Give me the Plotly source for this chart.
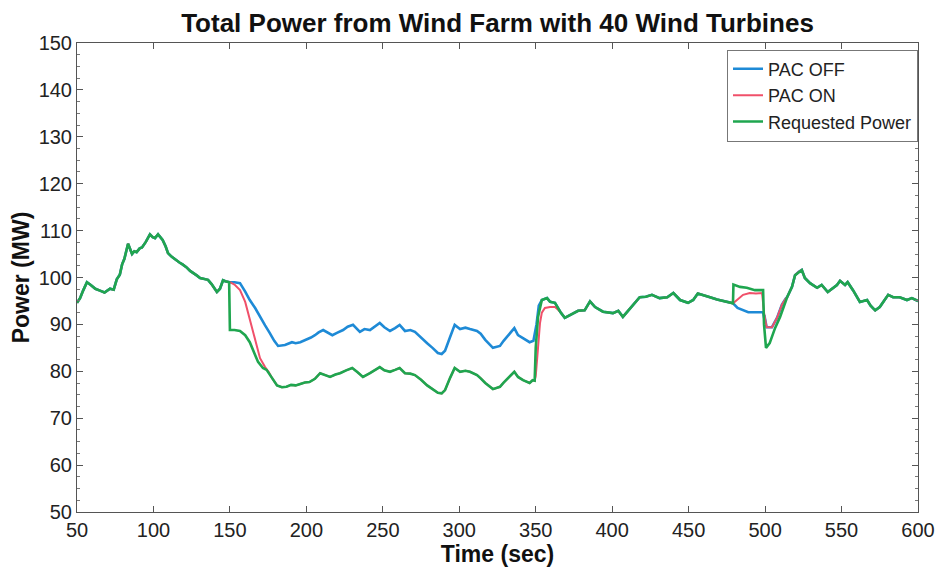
import plotly.graph_objects as go

# ---- measured power traces (time in s, power in MW) ----
# common part: all three traces coincide before the event at t = 150 s
t_common = [50, 52, 54, 56.5, 59, 62, 65, 68, 71.6, 74, 76, 78, 79.5, 81, 83.4, 86, 87.5,
            89, 91, 92.5, 95, 97.7, 99.5, 101, 103, 106, 108, 109.5, 112, 115, 117,
            119, 121.5, 124, 126, 128.5, 130.5, 132.5, 135.7, 138, 141.5, 143.5,
            145.5, 147, 149.5]
p_common = [94.6, 95.6, 97.2, 99.0, 98.4, 97.6, 97.2, 96.8, 97.6, 97.4, 99.6, 100.6, 102.8,
            104.0, 107.2, 105.0, 105.6, 105.4, 106.2, 106.4, 107.6, 109.2, 108.6, 108.4,
            109.2, 108.0, 106.6, 105.2, 104.4, 103.6, 103.2, 102.8, 102.2, 101.4, 101.0,
            100.4, 99.9, 99.7, 99.5, 98.6, 96.9, 97.6, 99.4, 99.2, 99.0]

# Requested power after the step at t = 150 s
t_req = [150, 153, 156.6, 160, 163, 165, 168.4, 171.6, 174, 177.5, 180.8, 184, 187, 190,
         193, 196, 199, 202, 205.6, 209, 212, 215.5, 219, 222, 226, 230, 233.5, 237,
         241.6, 245, 248, 251, 254.7, 258, 261, 264.5, 268, 271, 275, 279, 282.5, 286,
         288.5, 290.7, 294, 297, 300.5, 304, 307, 311.6, 314, 317, 322, 326.6, 329,
         332, 336, 338.4, 341.7, 346, 348, 349.3, 350, 351.5, 354, 357.4, 359.4,
         362.6, 366, 369, 372.4, 377.7, 382, 385.5, 388.8, 394, 400.5, 404, 407,
         411.7, 415, 418, 422, 426, 431, 436, 440, 444.4, 449.6, 453, 456, 459.4,
         464, 468.6, 473.8, 477, 479, 479.3, 483.6, 488, 493.4, 498.7, 499.3, 500.6,
         503, 506.5, 509.8, 514.4, 517.6, 519.6, 522, 524, 526, 529.4, 534, 537, 541,
         544, 547, 549, 552.3, 554, 557.5, 562, 566.7, 569, 572, 575, 580.5, 583.7,
         588, 592.8, 596, 600]
p_req = [88.8, 88.8, 88.6, 87.7, 86.2, 84.5, 82.0, 80.7, 80.3, 78.6, 77.0, 76.6, 76.7, 77.1,
         77.0, 77.3, 77.6, 77.7, 78.4, 79.6, 79.2, 78.8, 79.3, 79.6, 80.2, 80.7, 79.8,
         78.8, 79.6, 80.3, 80.9, 80.2, 79.9, 80.3, 80.7, 79.6, 79.5, 79.2, 78.2, 77.0,
         76.1, 75.4, 75.3, 76.0, 78.6, 80.7, 79.9, 80.1, 79.9, 79.2, 78.5, 77.5, 76.2,
         76.7, 77.6, 78.6, 79.9, 78.8, 78.1, 77.5, 78.1, 78.0, 85.0, 91.6, 95.2, 95.6,
         94.8, 94.6, 92.7, 91.4, 92.0, 92.9, 93.0, 94.9, 93.7, 92.7, 92.4, 92.9, 91.6,
         93.5, 94.8, 95.8, 95.9, 96.3, 95.6, 95.8, 96.7, 95.2, 94.6, 95.2, 96.6, 96.3,
         95.8, 95.3, 94.9, 94.8, 94.5, 98.5, 98.0, 97.8, 97.3, 97.3, 90.0, 85.0, 86.0,
         89.2, 91.6, 95.8, 98.0, 100.5, 101.2, 101.6, 99.9, 98.8, 97.8, 98.4, 96.9,
         97.6, 98.4, 99.3, 98.4, 99.0, 97.3, 94.8, 95.2, 94.0, 93.0, 93.7, 96.3, 95.8,
         95.8, 95.2, 95.6, 95.0]

# PAC ON: own response where it departs from the requested power
t_on_a = [150, 153, 156.6, 160, 163, 166.4, 169.7, 173, 175.5]
p_on_a = [99.0, 98.5, 97.3, 94.8, 91.0, 86.7, 82.8, 80.9, 79.8]
t_on_b = [350, 351.5, 352.8, 354, 356, 359.4, 362.6, 365]
p_on_b = [79.0, 85.0, 90.3, 92.5, 93.5, 93.7, 93.7, 93.0]
t_on_c = [479, 482, 485.6, 490, 494, 498, 499.5, 501, 504.5, 507.8, 511, 513.5]
p_on_c = [94.5, 95.3, 96.3, 96.7, 96.6, 96.7, 92.0, 89.4, 89.4, 91.4, 94.2, 95.5]

# PAC OFF: own response where it departs from the requested power
t_off_a = [150, 153, 156.6, 160, 163, 166.5, 169.7, 173, 176, 179, 181.5, 186, 190.6, 193,
           196, 200, 203, 205.6, 208, 211, 214, 217, 220, 224, 227, 230.5, 235, 238,
           241.6, 245, 248, 251, 254.7, 258, 261, 264.5, 268, 271, 275, 279, 282.5, 286,
           288.5, 290.7, 294, 297, 300.5, 304, 307, 311.6, 314, 317, 322, 326.6, 329,
           332, 336, 338.4, 341.7, 346, 348.5, 350.5, 352, 353.5]
p_off_a = [99.0, 99.0, 98.8, 97.0, 95.2, 93.5, 91.6, 89.8, 88.2, 86.5, 85.4, 85.6, 86.2, 86.0,
           86.2, 86.7, 87.2, 87.7, 88.3, 88.8, 88.2, 87.7, 88.2, 88.8, 89.5, 89.9, 88.4,
           89.0, 88.8, 89.6, 90.3, 89.4, 88.6, 89.2, 89.9, 88.6, 88.8, 88.4, 87.3, 86.0,
           85.0, 83.9, 83.7, 84.4, 87.3, 89.9, 89.0, 89.3, 89.0, 88.6, 88.0, 86.7, 85.0,
           85.4, 86.5, 87.7, 89.2, 87.7, 87.0, 86.2, 86.5, 90.0, 94.0, 95.0]
t_off_c = [479, 482, 485.6, 489, 494, 498.7, 499.6]
p_off_c = [94.5, 93.5, 93.0, 92.6, 92.6, 92.6, 91.0]


def splice(*parts):
    """Join (t, p) pieces; requested-power pieces are given as (t0, t1) windows."""
    ts, ps = [], []
    for part in parts:
        if isinstance(part[0], list):
            ts += part[0]
            ps += part[1]
        else:
            lo, hi = part
            for t, p in zip(t_req, p_req):
                if lo < t < hi:
                    ts.append(t)
                    ps.append(p)
    return ts, ps


t_on, p_on = splice((t_on_a, p_on_a), (t_on_a[-1], t_on_b[0]), (t_on_b, p_on_b),
                    (t_on_b[-1], t_on_c[0]), (t_on_c, p_on_c), (t_on_c[-1], 601))
t_on, p_on = t_common + t_on, p_common + p_on

t_off, p_off = splice((t_off_a, p_off_a), (t_off_a[-1], t_off_c[0]), (t_off_c, p_off_c))
t_off2, p_off2 = splice((t_on_c[6:], p_on_c[6:]), (t_on_c[-1], 601))
t_off = t_common + t_off + t_off2
p_off = p_common + p_off + p_off2

t_rq = t_common + t_req
p_rq = p_common + p_req

BLUE = "#1e8ad6"
RED = "#f0506a"
GREEN = "#1fa64f"
FONT = "Liberation Sans, Arial, sans-serif"

fig = go.Figure()
fig.add_trace(go.Scatter(x=t_off, y=p_off, mode="lines", name="PAC OFF",
                         line=dict(color=BLUE, width=2.6)))
fig.add_trace(go.Scatter(x=t_on, y=p_on, mode="lines", name="PAC ON",
                         line=dict(color=RED, width=2.0)))
fig.add_trace(go.Scatter(x=t_rq, y=p_rq, mode="lines", name="Requested Power",
                         line=dict(color=GREEN, width=2.6)))

fig.update_layout(
    width=937, height=572,
    paper_bgcolor="white", plot_bgcolor="white",
    margin=dict(l=77, r=19, t=43, b=60),
    font=dict(family=FONT, color="#222"),
    title=dict(text="<b>Total Power from Wind Farm with 40 Wind Turbines</b>",
               xref="paper", x=0.5, xanchor="center", y=0.960, yanchor="middle",
               font=dict(size=26, color="#111")),
    showlegend=True,
    legend=dict(x=1, xanchor="right", y=0.986, yanchor="top",
                bgcolor="white", bordercolor="#777", borderwidth=1,
                font=dict(size=18, color="#222"), tracegroupgap=0,
                itemwidth=30),
)
fig.update_xaxes(
    range=[50, 600], tickvals=list(range(50, 601, 50)),
    ticks="inside", ticklen=6, tickcolor="#555",
    showline=True, linecolor="#555", linewidth=1, mirror="ticks",
    showgrid=False, zeroline=False, automargin=False,
    tickfont=dict(size=20, color="#222"),
    title=dict(text="<b>Time (sec)</b>", font=dict(size=23, color="#111"), standoff=4),
)
fig.update_yaxes(
    range=[50, 150], tickvals=list(range(50, 151, 10)),
    ticks="inside", ticklen=6, tickcolor="#555",
    minor=dict(dtick=2.5, ticks="inside", ticklen=3, tickcolor="#777"),
    showline=True, linecolor="#555", linewidth=1, mirror="ticks",
    showgrid=False, zeroline=False, automargin=False,
    tickfont=dict(size=20, color="#222"),
    title=dict(text="<b>Power (MW)</b>", font=dict(size=23, color="#111"), standoff=2),
)

fig.write_html("out.html")
